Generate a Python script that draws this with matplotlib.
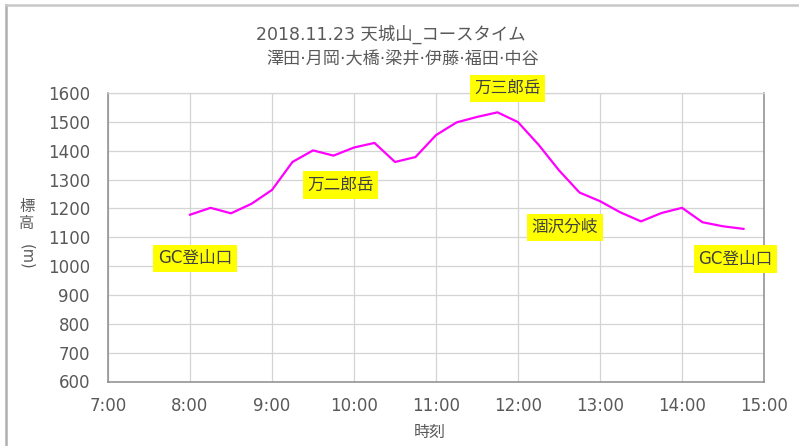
import matplotlib
matplotlib.use("Agg")
import matplotlib.pyplot as plt
from matplotlib.lines import Line2D

# course time data
times = ["8:00", "8:15", "8:30", "8:45", "9:00", "9:15", "9:30", "9:45",
         "10:00", "10:15", "10:30", "10:45", "11:00", "11:15", "11:30", "11:45",
         "12:00", "12:15", "12:30", "12:45", "13:00", "13:15", "13:30", "13:45",
         "14:00", "14:15", "14:30", "14:45"]
elev = [1178, 1202, 1183, 1216, 1264, 1361, 1401, 1383,
        1411, 1427, 1361, 1378, 1454, 1498, 1517, 1533,
        1499, 1421, 1332, 1255, 1225, 1186, 1155, 1184,
        1202, 1152, 1138, 1129]

# named spots -> index of the point they belong to
spot_names = ["GC登山口", "万二郎岳", "万三郎岳", "涸沢分岐", "GC登山口"]
spot_idx = [0, 7, 15, 20, 27]

xticks = [7, 8, 9, 10, 11, 12, 13, 14, 15]
xticklabels = ["7:00", "8:00", "9:00", "10:00", "11:00", "12:00", "13:00", "14:00", "15:00"]
yticks = [600, 700, 800, 900, 1000, 1100, 1200, 1300, 1400, 1500, 1600]

title1 = "2018.11.23 天城山_コースタイム"
title2 = "澤田·月岡·大橋·梁井·伊藤·福田·中谷"


def to_hours(s):
    h, m = s.split(":")
    return int(h) + int(m) / 60.0


hours = [to_hours(t) for t in times]

W, H = 799, 446
fig = plt.figure(figsize=(W / 100, H / 100), dpi=100)
fig.patch.set_facecolor("white")

# axes placed in pixel terms
left, right, top, bottom = 108, 764, 93, 381.5
ax = fig.add_axes([left / W, 1 - bottom / H, (right - left) / W, (bottom - top) / H])

ax.plot(hours, elev, color="#FF00FF", lw=1.6, solid_joinstyle="round")

ax.set_xlim(7, 15)
ax.set_ylim(600, 1600)
ax.set_xticks(xticks)
ax.set_xticklabels(xticklabels)
ax.set_yticks(yticks)
ax.grid(True, color="#d4d4d4", lw=0.9)
ax.set_axisbelow(True)
ax.tick_params(length=0, labelsize=12, colors="#595959")
ax.tick_params(axis="x", pad=11)
ax.tick_params(axis="y", pad=13)
for s in ["left", "bottom", "right"]:
    ax.spines[s].set_color("#8c8c8c")
    ax.spines[s].set_linewidth(1.1)
ax.spines["top"].set_color("#d4d4d4")
ax.spines["top"].set_linewidth(0.9)

jp = ["DejaVu Sans", "Noto Sans CJK JP"]

# labels with yellow boxes
offsets = [(5, -43.5), (7, -29.5), (10, 24), (-35, -26), (-8, -30)]
for name, i, off in zip(spot_names, spot_idx, offsets):
    ax.annotate(name, xy=(hours[i], elev[i]), xytext=off, textcoords="offset pixels",
                ha="center", va="center", fontsize=12, family=jp, color="#404040",
                bbox=dict(boxstyle="square,pad=0.28", fc="#FFFF00", ec="none"),
                annotation_clip=False)

# titles
fig.text(391 / W, 1 - 34 / H, title1, ha="center", va="center", fontsize=12.5,
         family=jp, color="#595959")
fig.text(403 / W, 1 - 60 / H, title2, ha="center", va="center", fontsize=12.3,
         family=jp, color="#595959")

# axis titles
fig.text(27 / W, 1 - 215 / H, "標\n高", ha="center", va="center", fontsize=11,
         family=["Noto Sans CJK JP"], color="#595959", linespacing=1.0)
fig.text(27 / W, 1 - 257 / H, "(m)", ha="center", va="center", fontsize=10.5,
         family=jp, color="#595959", rotation=-90)
fig.text(430 / W, 1 - 432 / H, "時刻", ha="center", va="center", fontsize=11.5,
         family=["Noto Sans CJK JP"], color="#595959")

# chart frame (only left and top edges are visible)
fig.add_artist(Line2D([5.5 / W, 5.5 / W], [0, 1 - 4.5 / H], color="#b0b0b0", lw=1.8))
fig.add_artist(Line2D([5.5 / W, 1], [1 - 4.5 / H, 1 - 4.5 / H], color="#c8c8c8", lw=1.8))

fig.savefig("out.png", dpi=100)
